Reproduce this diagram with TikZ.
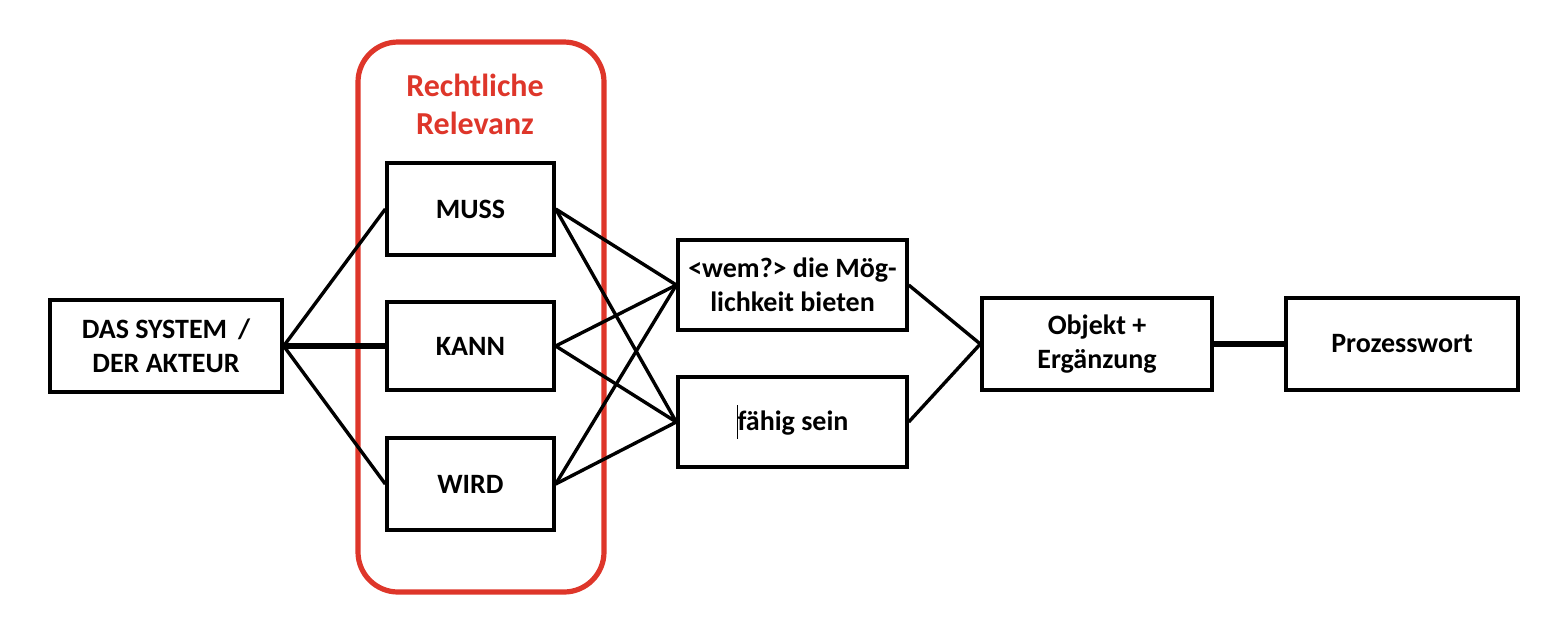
\documentclass[tikz,border=0pt]{standalone}
\usepackage{fontspec}
\setmainfont{Carlito}
\definecolor{relred}{RGB}{222,54,42}

\begin{document}
\begin{tikzpicture}[x=0.5pt,y=0.5pt,yscale=-1,xscale=1,
	box/.style={draw=black,line width=1.7pt,align=center,font=\fontsize{14}{17}\selectfont\bfseries,inner sep=0pt},
	link/.style={line width=1.7pt,black},
	thicklink/.style={line width=2.7pt,black}]
			\useasboundingbox (0,0) rectangle (1552,634);
			\draw[relred,line width=2.6pt,rounded corners=20pt] (358,42) rectangle (604,592);
			
			\node (rel) at (475,104) [align=center,text=relred,font=\fontsize{16}{19}\selectfont\bfseries] {Rechtliche\\Relevanz};
			\node (sys) at (166,346) [box,minimum width=116pt,minimum height=46pt] {DAS SYSTEM \,/\\DER AKTEUR};
			\node (muss) at (470.5,209) [box,minimum width=83.5pt,minimum height=46pt] {MUSS};
			\node (kann) at (470.5,346) [box,minimum width=83.5pt,minimum height=44pt] {KANN};
			\node (wird) at (470.5,484) [box,minimum width=83.5pt,minimum height=46pt] {WIRD};
			\node (wem) at (792.5,285) [box,minimum width=114.5pt,minimum height=45pt] {<wem?> die Mög-\\lichkeit bieten};
			\node (faehig) at (792.5,422) [box,minimum width=114.5pt,minimum height=45pt] {{\mdseries\rule[-0.3em]{0.5pt}{1.2em}}fähig sein};
			\node (obj) at (1097,344) [box,minimum width=115pt,minimum height=46pt] {Objekt +\\Ergänzung};
			\node (proz) at (1402,344) [box,minimum width=116pt,minimum height=46pt] {Prozesswort};
			
			\draw[link] (sys.east) -- (muss.west);
			\draw[thicklink] (sys.east) -- (kann.west);
			\draw[link] (sys.east) -- (wird.west);
			\foreach \src in {muss,kann,wird}{
				\draw[link] (\src.east) -- (wem.west);
				\draw[link] (\src.east) -- (faehig.west);
			}
			\draw[link] (wem.east) -- (obj.west);
			\draw[link] (faehig.east) -- (obj.west);
			\draw[thicklink] (obj.east) -- (proz.west);
			\end{tikzpicture}
\end{document}
